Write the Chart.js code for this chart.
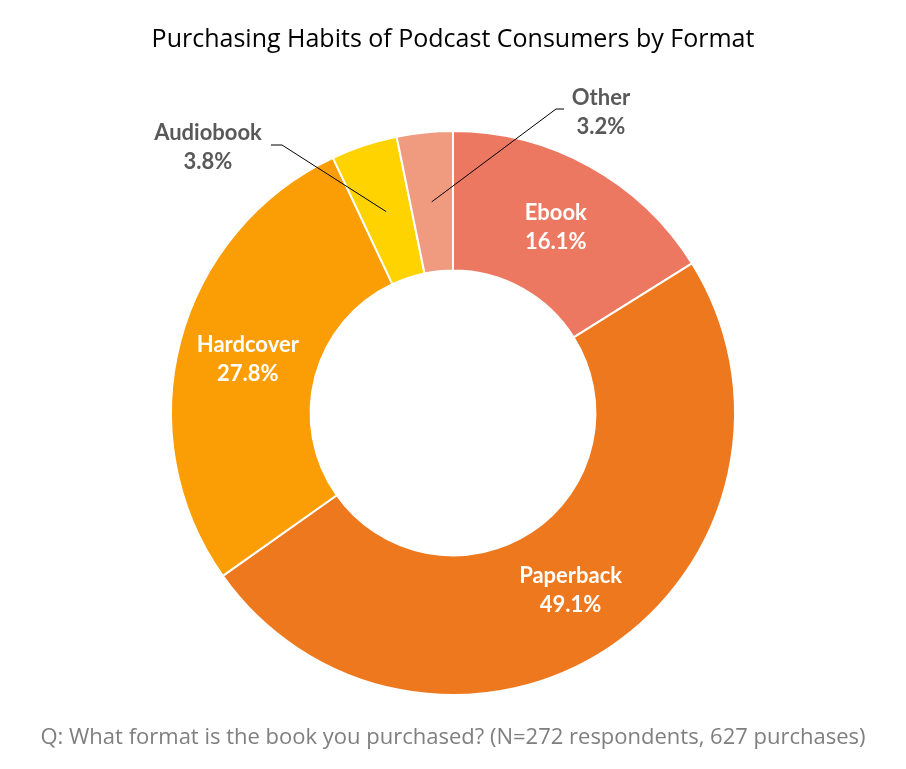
<!DOCTYPE html>
<html>
<head>
<meta charset="utf-8">
<script src="https://cdn.jsdelivr.net/npm/chart.js@4.4.1/dist/chart.umd.min.js"></script>
<style>
  html, body { margin: 0; padding: 0; background: #fff; }
  #wrap { width: 906px; height: 769px; }
</style>
</head>
<body>
<div id="wrap"><canvas id="c"></canvas></div>
<script>
// Format shares, clockwise from 12 o'clock
const formats = ['Ebook', 'Paperback', 'Hardcover', 'Audiobook', 'Other'];
const shares = [16.1, 49.1, 27.8, 3.8, 3.2];
const colors = ['#ED7862', '#EE781E', '#FB9E05', '#FFD300', '#F09A7F'];

const LABEL_FONT = 'Lato, "Open Sans", sans-serif';
const TEXT_FONT = '"Open Sans", Lato, sans-serif';

// thin slices get their label outside with a leader line
const callouts = {
  Audiobook: { dx: -245, dy: -266, lineFrom: [-182, -268], lineKnee: [-171, -268] },
  Other:     { dx: 148,  dy: -301, lineFrom: [111, -304],  lineKnee: [103, -304] }
};

const sliceLabels = {
  id: 'sliceLabels',
  afterDatasetsDraw(chart){
    const ctx = chart.ctx;
    const meta = chart.getDatasetMeta(0);
    const cx = meta.data[0].x, cy = meta.data[0].y;
    ctx.save();
    ctx.font = 'bold 22px ' + LABEL_FONT;
    ctx.textAlign = 'center';
    ctx.textBaseline = 'middle';
    meta.data.forEach((arc, i) => {
      const name = formats[i];
      const txt = shares[i].toFixed(1) + '%';
      const p = arc.getCenterPoint();
      const co = callouts[name];
      if(co){
        ctx.strokeStyle = '#000';
        ctx.lineWidth = 1;
        ctx.beginPath();
        ctx.moveTo(cx + co.lineFrom[0], cy + co.lineFrom[1]);
        ctx.lineTo(cx + co.lineKnee[0], cy + co.lineKnee[1]);
        ctx.lineTo(p.x, p.y);
        ctx.stroke();
        ctx.fillStyle = '#595959';
        ctx.fillText(name, cx + co.dx, cy + co.dy - 14);
        ctx.fillText(txt, cx + co.dx, cy + co.dy + 15);
      } else {
        ctx.fillStyle = '#ffffff';
        ctx.fillText(name, p.x, p.y - 14);
        ctx.fillText(txt, p.x, p.y + 15);
      }
    });
    ctx.restore();
  }
};

new Chart(document.getElementById('c'), {
  type: 'doughnut',
  data: {
    labels: formats,
    datasets: [{
      data: shares,
      backgroundColor: colors,
      borderColor: '#ffffff',
      borderWidth: 2
    }]
  },
  options: {
    responsive: true,
    maintainAspectRatio: false,
    animation: false,
    cutout: '50.5%',
    plugins: {
      legend: { display: false },
      tooltip: { enabled: false },
      title: {
        display: true,
        text: 'Purchasing Habits of Podcast Consumers by Format',
        color: '#000',
        font: { family: TEXT_FONT, size: 25, weight: 'normal' },
        padding: { top: 25, bottom: 75 }
      },
      subtitle: {
        display: true,
        position: 'bottom',
        text: 'Q: What format is the book you purchased? (N=272 respondents, 627 purchases)',
        color: '#7F7F7F',
        font: { family: TEXT_FONT, size: 22, weight: 'normal' },
        padding: { top: 28.8, bottom: 17.8 }
      }
    }
  },
  plugins: [sliceLabels]
});
</script>
</body>
</html>
